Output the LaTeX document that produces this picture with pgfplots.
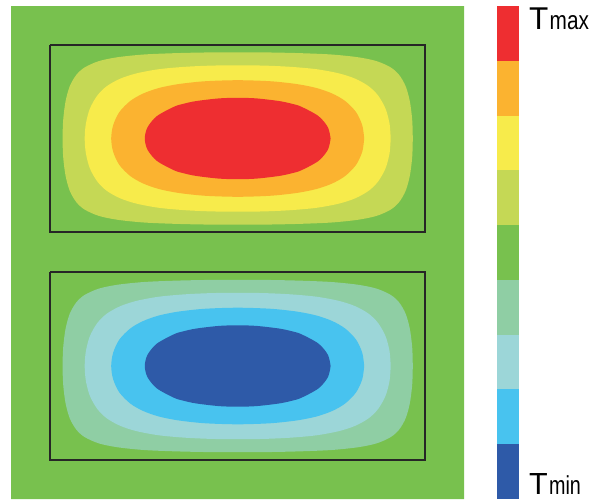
\documentclass[border=0pt]{standalone}
\usepackage{fontspec}
\setmainfont{Liberation Sans}
\usepackage{pgfplots}
\usepackage{pgfplotstable}
\pgfplotsset{compat=1.18}
\usepackage{graphicx}

\definecolor{cRed}{HTML}{EE2E31}
\definecolor{cOrange}{HTML}{FBB330}
\definecolor{cYellow}{HTML}{F7EB4B}
\definecolor{cYG}{HTML}{C5D855}
\definecolor{cGreen}{HTML}{78C14E}
\definecolor{cLG}{HTML}{8FCEA4}
\definecolor{cLC}{HTML}{9CD6D8}
\definecolor{cCyan}{HTML}{48C3EF}
\definecolor{cBlue}{HTML}{2E5AA8}

% contour loops, offsets from the centre of each box (pixels)
\pgfplotstableread{
dx dy
175.1 0
174.5 18.7
172.1 37.4
167.9 52.4
161.4 63.6
153.0 71.1
138.8 77.4
120.0 81.3
93.8 84.0
63.8 85.3
33.8 86.0
0 86.2
-33.8 86.0
-63.8 85.3
-93.8 84.0
-120.0 81.3
-138.8 77.4
-153.0 71.1
-161.4 63.6
-167.9 52.4
-172.1 37.4
-174.5 18.7
-175.1 0
-174.5 -18.7
-172.1 -37.4
-167.9 -52.4
-161.4 -63.6
-153.0 -71.1
-138.8 -77.4
-120.0 -81.3
-93.8 -84.0
-63.8 -85.3
-33.8 -86.0
0 -86.2
33.8 -86.0
63.8 -85.3
93.8 -84.0
120.0 -81.3
138.8 -77.4
153.0 -71.1
161.4 -63.6
167.9 -52.4
172.1 -37.4
174.5 -18.7
175.1 0
}\contA

\pgfplotstableread{
dx dy
153.0 0
151.8 15.0
147.8 29.9
140.4 43.0
130.8 52.4
117.5 59.8
101.3 65.1
78.8 69.3
52.5 71.7
26.3 72.9
0 73.2
-26.3 72.9
-52.5 71.7
-78.8 69.3
-101.3 65.1
-117.5 59.8
-130.8 52.4
-140.4 43.0
-147.8 29.9
-151.8 15.0
-153.0 0
-151.8 -15.0
-147.8 -29.9
-140.4 -43.0
-130.8 -52.4
-117.5 -59.8
-101.3 -65.1
-78.8 -69.3
-52.5 -71.7
-26.3 -72.9
0 -73.2
26.3 -72.9
52.5 -71.7
78.8 -69.3
101.3 -65.1
117.5 -59.8
130.8 -52.4
140.4 -43.0
147.8 -29.9
151.8 -15.0
153.0 0
}\contB

\pgfplotstableread{
dx dy
126.5 0
124.6 13.1
118.5 26.2
107.6 37.4
94.7 44.9
78.8 50.5
60.0 54.3
37.5 56.9
18.8 57.9
0 58.3
-18.8 57.9
-37.5 56.9
-60.0 54.3
-78.8 50.5
-94.7 44.9
-107.6 37.4
-118.5 26.2
-124.6 13.1
-126.5 0
-124.6 -13.1
-118.5 -26.2
-107.6 -37.4
-94.7 -44.9
-78.8 -50.5
-60.0 -54.3
-37.5 -56.9
-18.8 -57.9
0 -58.3
18.8 -57.9
37.5 -56.9
60.0 -54.3
78.8 -50.5
94.7 -44.9
107.6 -37.4
118.5 -26.2
124.6 -13.1
126.5 0
}\contC

\pgfplotstableread{
dx dy
92.9 0
90.2 11.2
80.8 22.4
63.6 31.8
54.7 34.6
41.8 37.4
18.8 40.1
0 40.7
-18.8 40.1
-41.8 37.4
-54.7 34.6
-63.6 31.8
-80.8 22.4
-90.2 11.2
-92.9 0
-90.2 -11.2
-80.8 -22.4
-63.6 -31.8
-54.7 -34.6
-41.8 -37.4
-18.8 -40.1
0 -40.7
18.8 -40.1
41.8 -37.4
54.7 -34.6
63.6 -31.8
80.8 -22.4
90.2 -11.2
92.9 0
}\contD

\begin{document}
\begin{tikzpicture}
\begin{axis}[
  width=592pt, height=501pt, scale only axis,
  xmin=0, xmax=592, ymin=0, ymax=501,
  y dir=reverse, hide axis, clip=false,
]
% bounding frame (invisible)
\addplot[draw=none] coordinates {(0,0) (592,501)};
% background
\addplot[fill=cGreen, draw=none] coordinates {(11,6) (464,6) (464,499) (11,499) (11,6)};

% top box (positive field)
\addplot[fill=cYG, draw=none, smooth] table[x expr=\thisrow{dx}+237.7, y expr=\thisrow{dy}+138.5] {\contA};
\addplot[fill=cYellow, draw=none, smooth] table[x expr=\thisrow{dx}+237.7, y expr=\thisrow{dy}+138.5] {\contB};
\addplot[fill=cOrange, draw=none, smooth] table[x expr=\thisrow{dx}+237.7, y expr=\thisrow{dy}+138.5] {\contC};
\addplot[fill=cRed, draw=none, smooth] table[x expr=\thisrow{dx}+237.7, y expr=\thisrow{dy}+138.5] {\contD};
\addplot[draw=black!85, line width=1.7pt] coordinates {(50.3,45.3) (425.3,45.3) (425.3,231.7) (50.3,231.7) (50.3,45.3)};

% bottom box (negative field)
\addplot[fill=cLG, draw=none, smooth] table[x expr=\thisrow{dx}+237.7, y expr=\thisrow{dy}+366.0] {\contA};
\addplot[fill=cLC, draw=none, smooth] table[x expr=\thisrow{dx}+237.7, y expr=\thisrow{dy}+366.0] {\contB};
\addplot[fill=cCyan, draw=none, smooth] table[x expr=\thisrow{dx}+237.7, y expr=\thisrow{dy}+366.0] {\contC};
\addplot[fill=cBlue, draw=none, smooth] table[x expr=\thisrow{dx}+237.7, y expr=\thisrow{dy}+366.0] {\contD};
\addplot[draw=black!85, line width=1.7pt] coordinates {(50.3,272.3) (425.3,272.3) (425.3,459.7) (50.3,459.7) (50.3,272.3)};

% colour bar
\addplot[fill=cRed, draw=none]    coordinates {(497,6.0) (519,6.0) (519,60.8) (497,60.8)};
\addplot[fill=cOrange, draw=none] coordinates {(497,60.8) (519,60.8) (519,115.6) (497,115.6)};
\addplot[fill=cYellow, draw=none] coordinates {(497,115.6) (519,115.6) (519,170.3) (497,170.3)};
\addplot[fill=cYG, draw=none]     coordinates {(497,170.3) (519,170.3) (519,225.1) (497,225.1)};
\addplot[fill=cGreen, draw=none]  coordinates {(497,225.1) (519,225.1) (519,279.9) (497,279.9)};
\addplot[fill=cLG, draw=none]     coordinates {(497,279.9) (519,279.9) (519,334.7) (497,334.7)};
\addplot[fill=cLC, draw=none]     coordinates {(497,334.7) (519,334.7) (519,389.4) (497,389.4)};
\addplot[fill=cCyan, draw=none]   coordinates {(497,389.4) (519,389.4) (519,444.2) (497,444.2)};
\addplot[fill=cBlue, draw=none]   coordinates {(497,444.2) (519,444.2) (519,499.0) (497,499.0)};

\node[anchor=base west, inner sep=0pt] at (axis cs:528.8,29.3)
  {\fontsize{31.5}{32}\selectfont T\hspace{1.5pt}\scalebox{0.8}[1]{\fontsize{26}{26}\selectfont max}};
\node[anchor=base west, inner sep=0pt] at (axis cs:528.8,494)
  {\fontsize{30.5}{32}\selectfont T\hspace{1.5pt}\scalebox{0.76}[1]{\fontsize{26}{26}\selectfont min}};
\end{axis}
\end{tikzpicture}
\end{document}
